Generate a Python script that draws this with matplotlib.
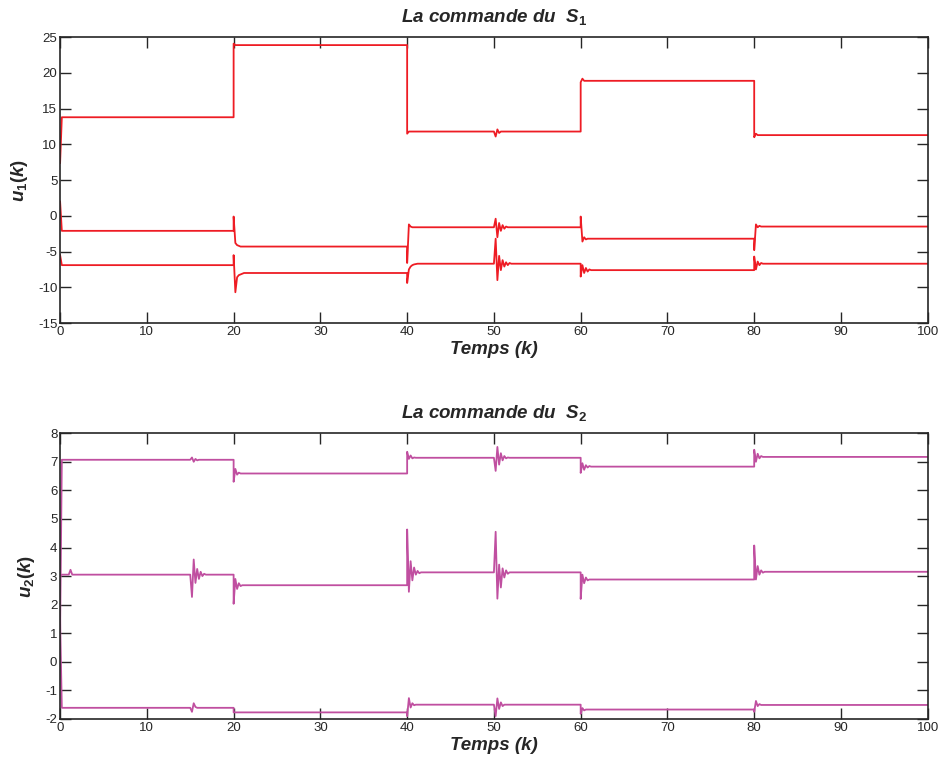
import numpy as np
import matplotlib.pyplot as plt

plt.rcParams['font.family'] = 'Liberation Sans'
plt.rcParams['mathtext.fontset'] = 'custom'
plt.rcParams['mathtext.it'] = 'Liberation Sans:italic:bold'
plt.rcParams['mathtext.rm'] = 'Liberation Sans:bold'
plt.rcParams['mathtext.bf'] = 'Liberation Sans:bold'
plt.rcParams['axes.unicode_minus'] = False

switch_t = [0, 20, 40, 60, 80, 100]
dt = 0.2

# commande S1 : niveau par intervalle + transitoires
u1_a = [13.8, 23.9, 11.8, 18.9, 11.3]
u1_a_tr = {0: [7.4, 13.8], 20: [24.1, 23.9], 40: [11.5, 11.8],
           50: [11.8, 11.1, 12.1, 11.6, 11.8], 60: [18.7, 19.2, 18.9],
           80: [11.0, 11.5, 11.3]}
u1_b = [-2.1, -4.3, -1.6, -3.2, -1.5]
u1_b_tr = {0: [2.0, -2.1], 20: [-0.1, -3.8, -4.1, -4.2, -4.3],
           40: [-6.6, -1.2, -1.5, -1.6],
           50: [-1.6, -0.4, -3.0, -1.0, -2.1, -1.3, -1.8, -1.5, -1.6],
           60: [-0.1, -3.6, -3.0, -3.3, -3.2],
           80: [-4.8, -1.2, -1.6, -1.4, -1.5]}
u1_c = [-6.9, -8.0, -6.7, -7.6, -6.7]
u1_c_tr = {0: [-5.5, -6.9], 20: [-5.5, -10.7, -8.6, -8.3, -8.2, -8.1, -8.0],
           40: [-9.4, -7.5, -7.1, -6.9, -6.8, -6.75, -6.7],
           50: [-6.7, -3.2, -9.0, -5.6, -7.6, -6.2, -7.1, -6.5, -6.9, -6.6, -6.7],
           60: [-8.5, -6.9, -8.0, -7.3, -7.8, -7.5, -7.6],
           80: [-5.7, -7.5, -6.4, -6.9, -6.6, -6.7]}

# commande S2
u2_a = [7.07, 6.59, 7.14, 6.83, 7.17]
u2_a_tr = {0: [1.0, 7.07], 15: [7.07, 7.15, 7.0, 7.1, 7.05, 7.07],
           20: [6.3, 6.75, 6.55, 6.62, 6.59],
           40: [7.35, 7.1, 7.22, 7.12, 7.15, 7.14],
           50: [7.14, 6.68, 7.52, 6.9, 7.3, 7.05, 7.2, 7.12, 7.15, 7.14],
           60: [6.61, 6.95, 6.72, 6.88, 6.8, 6.85, 6.83],
           80: [7.42, 7.0, 7.28, 7.12, 7.2, 7.17]}
u2_b = [3.05, 2.68, 3.13, 2.88, 3.15]
u2_b_tr = {0: [3.0, 3.05], 1: [3.05, 3.22, 3.05],
           15: [3.05, 2.27, 3.58, 2.76, 3.25, 2.9, 3.15, 3.0, 3.08, 3.05],
           20: [2.03, 2.9, 2.55, 2.75, 2.65, 2.68],
           40: [4.63, 2.45, 3.52, 2.85, 3.3, 3.05, 3.18, 3.1, 3.13],
           50: [3.13, 4.55, 2.21, 3.4, 2.6, 3.27, 2.95, 3.2, 3.08, 3.13],
           60: [2.2, 3.05, 2.75, 2.95, 2.85, 2.88],
           80: [4.07, 2.88, 3.35, 3.05, 3.2, 3.12, 3.15]}
u2_c = [-1.61, -1.77, -1.5, -1.67, -1.51]
u2_c_tr = {0: [1.5, -1.61], 15: [-1.61, -1.75, -1.45, -1.58, -1.61],
           20: [-1.77], 40: [-1.9, -1.27, -1.6, -1.45, -1.52, -1.5],
           50: [-1.5, -1.9, -1.28, -1.65, -1.42, -1.55, -1.5],
           60: [-1.82, -1.62, -1.7, -1.67],
           80: [-1.75, -1.37, -1.55, -1.48, -1.51]}


def trace(levels, events):
    t, y = [], []
    for k, lev in enumerate(levels):
        t0, t1 = switch_t[k], switch_t[k + 1]
        if t0 not in events:
            t.append(t0)
            y.append(lev)
        for e in sorted(e for e in events if t0 <= e < t1):
            for i, v in enumerate(events[e]):
                t.append(e + i * dt)
                y.append(v)
        t.append(t1)
        y.append(lev)
    return np.array(t), np.array(y)


def style(ax, yticks):
    ax.set_xlim(0, 100)
    ax.set_xticks(range(0, 101, 10))
    ax.set_ylim(yticks[0], yticks[-1])
    ax.set_yticks(yticks)
    ax.tick_params(direction='in', top=True, right=True, length=8,
                   width=1, labelsize=9.5, colors='#262626', pad=2)
    for s in ax.spines.values():
        s.set_color('#262626')
        s.set_linewidth(1.2)


fig = plt.figure(figsize=(9.39, 7.6), dpi=100)
ax1 = fig.add_axes([0.064, 0.575, 0.924, 0.376])
ax2 = fig.add_axes([0.064, 0.054, 0.924, 0.376])

for lev, tr in [(u1_a, u1_a_tr), (u1_b, u1_b_tr), (u1_c, u1_c_tr)]:
    t, y = trace(lev, tr)
    ax1.plot(t, y, color='#ee1c24', lw=1.3)
for lev, tr in [(u2_a, u2_a_tr), (u2_b, u2_b_tr), (u2_c, u2_c_tr)]:
    t, y = trace(lev, tr)
    ax2.plot(t, y, color='#c04fa0', lw=1.3)

style(ax1, list(range(-15, 26, 5)))
style(ax2, list(range(-2, 9, 1)))

for ax, k in [(ax1, 1), (ax2, 2)]:
    ax.set_title(r'La commande du  $S_%d$' % k, fontsize=13.5,
                 fontweight='bold', style='italic', color='#262626', pad=11)
    ax.set_xlabel('Temps (k)', fontsize=13.5, fontweight='bold',
                  style='italic', color='#262626', labelpad=2)
    ax.set_ylabel(r'$u_%d(k)$' % k, fontsize=13.5, color='#262626', labelpad=6)

fig.savefig('out.png', dpi=100)
